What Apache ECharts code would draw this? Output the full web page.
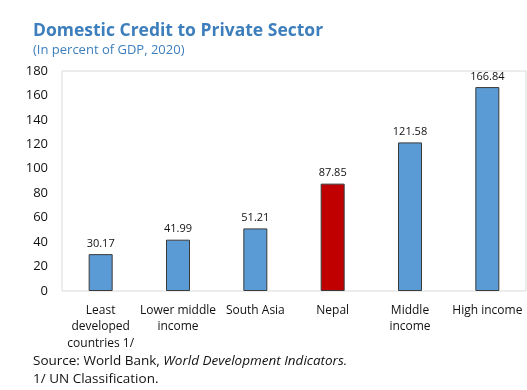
<!DOCTYPE html>
<html>
<head>
<meta charset="utf-8">
<script src="https://cdn.jsdelivr.net/npm/echarts@6/dist/echarts.min.js"></script>
<style>
  html, body { margin: 0; padding: 0; background: #fff; }
  #main { width: 527px; height: 390px; }
</style>
</head>
<body>
<div id="main"></div>
<script>
const categories = ["Least\ndeveloped\ncountries 1/", "Lower middle\nincome", "South Asia", "Nepal", "Middle\nincome", "High income"];
const values = [30.17, 41.99, 51.21, 87.85, 121.58, 166.84];
const highlight = "Nepal";

const font = "'Open Sans', 'Noto Sans', sans-serif";
var myChart = echarts.init(document.getElementById("main"));

myChart.setOption({
  animation: false,
  textStyle: { fontFamily: font },
  title: [
    {
      text: "Domestic Credit to Private Sector",
      left: 28,
      top: 17,
      textStyle: { fontFamily: font, fontSize: 17.5, fontWeight: "bold", color: "#3d7ebc" }
    },
    {
      text: "(In percent of GDP, 2020)",
      left: 28,
      top: 39,
      textStyle: { fontFamily: font, fontSize: 13, fontWeight: "normal", color: "#3d7ebc" }
    }
  ],
  graphic: [
    {
      type: "text",
      left: 33,
      top: 354,
      style: {
        rich: {
          n: { fontFamily: font, fontSize: 13.5, fill: "#111" },
          i: { fontFamily: font, fontSize: 13.5, fill: "#111", fontStyle: "italic" }
        },
        text: "{n|Source: World Bank, }{i|World Development Indicators.}"
      }
    },
    {
      type: "text",
      left: 33,
      top: 372,
      style: { text: "1/ UN Classification.", font: "13.5px " + font, fill: "#111" }
    }
  ],
  grid: {
    left: 62,
    right: 1,
    top: 71,
    bottom: 99,
    show: true,
    borderColor: "#d9d9d9",
    borderWidth: 1
  },
  xAxis: {
    type: "category",
    data: categories,
    axisLine: { show: false },
    axisTick: { show: false },
    axisLabel: {
      interval: 0,
      margin: 11,
      color: "#111",
      fontSize: 12,
      lineHeight: 16.5,
      fontFamily: font
    }
  },
  yAxis: {
    type: "value",
    min: 0,
    max: 180,
    interval: 20,
    splitLine: { show: false },
    axisLine: { show: false },
    axisTick: { show: false },
    axisLabel: { color: "#111", fontSize: 13, margin: 14, fontFamily: font }
  },
  series: [
    {
      type: "bar",
      barWidth: 24,
      data: values.map(function (v, i) {
        return {
          value: v,
          itemStyle: { color: categories[i] === highlight ? "#c00000" : "#5b9bd5" }
        };
      }),
      itemStyle: { borderColor: "#3a3a3a", borderWidth: 1 },
      label: {
        show: true,
        position: "top",
        distance: 5,
        color: "#111",
        fontSize: 11,
        fontFamily: font,
        formatter: function (p) { return p.value.toFixed(2); }
      }
    }
  ]
});
</script>
</body>
</html>
